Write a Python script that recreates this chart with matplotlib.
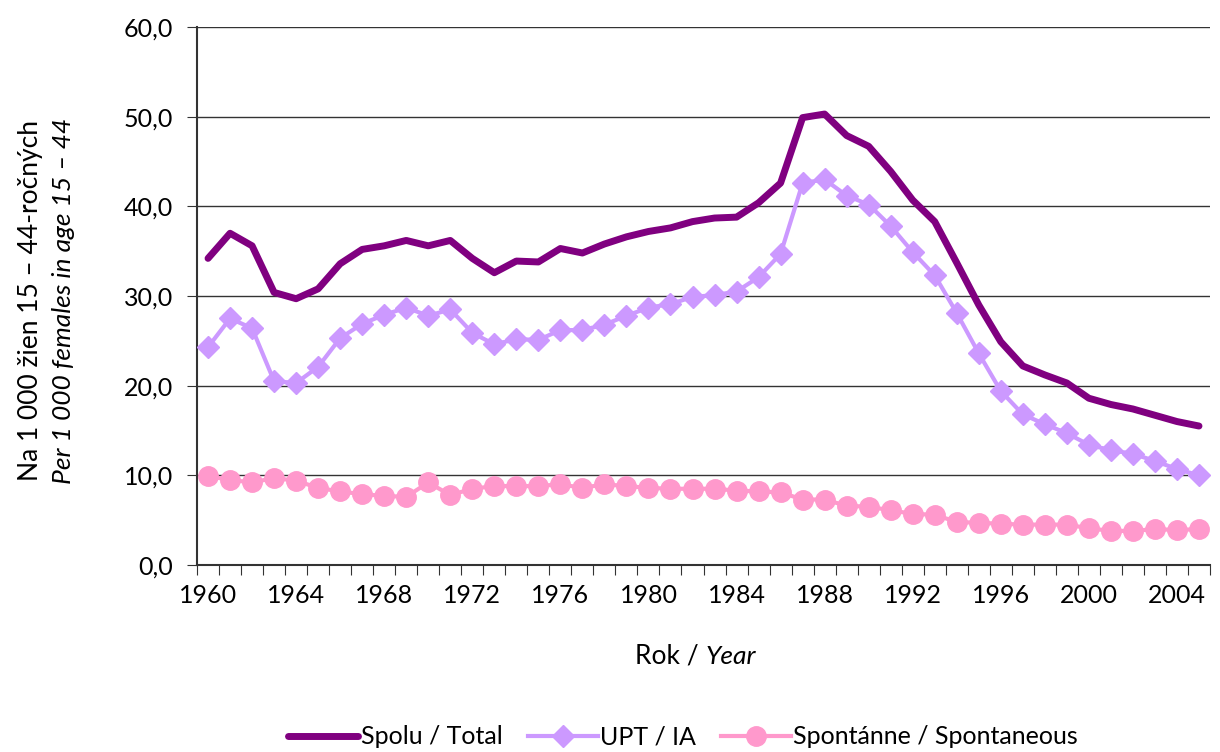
import matplotlib
matplotlib.use('Agg')
import matplotlib.pyplot as plt
import numpy as np

plt.rcParams['font.family'] = ['Lato', 'DejaVu Sans']

years = list(range(1960, 2006))

# Spolu / Total
total = [34.2, 37.0, 35.6, 30.4, 29.7, 30.8, 33.6, 35.2, 35.6, 36.2,
         35.6, 36.2, 34.2, 32.6, 33.9, 33.8, 35.3, 34.8, 35.8, 36.6,
         37.2, 37.6, 38.3, 38.7, 38.8, 40.4, 42.6, 49.9, 50.3, 47.9,
         46.7, 43.9, 40.7, 38.3, 33.7, 29.0, 24.9, 22.2, 21.2, 20.3,
         18.6, 17.9, 17.4, 16.7, 16.0, 15.5]
# UPT / IA
upt = [24.3, 27.5, 26.4, 20.5, 20.3, 22.1, 25.3, 26.9, 27.9, 28.7,
       27.8, 28.5, 25.9, 24.6, 25.2, 25.1, 26.2, 26.2, 26.8, 27.8,
       28.7, 29.1, 29.9, 30.1, 30.5, 32.1, 34.7, 42.6, 43.0, 41.2,
       40.2, 37.8, 34.9, 32.3, 28.1, 23.6, 19.4, 16.8, 15.7, 14.7,
       13.4, 12.8, 12.4, 11.6, 10.7, 10.0]
# Spontánne / Spontaneous
spont = [9.9, 9.5, 9.2, 9.7, 9.4, 8.6, 8.2, 7.9, 7.7, 7.6,
         9.2, 7.8, 8.5, 8.8, 8.8, 8.8, 9.0, 8.6, 9.0, 8.8,
         8.6, 8.5, 8.5, 8.5, 8.3, 8.2, 8.1, 7.3, 7.3, 6.6,
         6.5, 6.1, 5.7, 5.6, 4.8, 4.7, 4.6, 4.5, 4.5, 4.5,
         4.1, 3.8, 3.8, 4.0, 3.9, 4.0]

fig = plt.figure(figsize=(12.2, 7.52), dpi=100)
ax = fig.add_axes([0.1615, 0.2487, 0.8303, 0.7153])

x = np.arange(len(years))
ax.plot(x, total, color='#800080', lw=5, solid_capstyle='round',
        solid_joinstyle='round', label='Spolu / Total', zorder=3)
ax.plot(x, upt, color='#CC99FF', lw=3, marker='D', markersize=11,
        label='UPT / IA', zorder=4)
ax.plot(x, spont, color='#FF99CC', lw=3, marker='o', markersize=14,
        label='Spontánne / Spontaneous', zorder=5)

ax.set_ylim(0, 60)
ax.set_yticks(np.arange(0, 61, 10))
ax.set_yticklabels([f'{v:.1f}'.replace('.', ',') for v in np.arange(0, 61, 10)],
                   fontsize=18)
ax.yaxis.grid(True, color='#333333', lw=1.0)
ax.set_axisbelow(True)

ax.set_xlim(-0.5, len(years) - 0.5)
ax.set_xticks(np.arange(-0.5, len(years)), labels=[])
ax.set_xticks(x[::4], labels=[str(y) for y in years[::4]], minor=True)
ax.tick_params(axis='x', which='major', length=7, color='#333333')
ax.tick_params(axis='x', which='minor', length=0, labelsize=18, pad=14)
ax.tick_params(axis='y', length=7, color='#333333', pad=10)

for s in ['top', 'right']:
    ax.spines[s].set_visible(False)
ax.spines['left'].set_color('#333333')
ax.spines['left'].set_linewidth(1.5)
ax.spines['bottom'].set_color('#333333')
ax.spines['bottom'].set_linewidth(1.5)

fig.text(0.578, 0.127, 'Rok / ', ha='right', va='center', fontsize=19)
fig.text(0.578, 0.127, 'Year', ha='left', va='center', fontsize=19, style='italic')

fig.text(0.025, 0.60, 'Na 1 000 žien 15 – 44-ročných', rotation=90,
         ha='center', va='center', fontsize=19)
fig.text(0.052, 0.60, 'Per 1 000 females in age 15 – 44', rotation=90,
         ha='center', va='center', fontsize=19, style='italic')

fig.legend(loc='center', bbox_to_anchor=(0.56, 0.02), ncol=3, frameon=False,
           fontsize=18, handlelength=2.8, handletextpad=0.1, columnspacing=1.0)

fig.savefig('out.png', dpi=100)
